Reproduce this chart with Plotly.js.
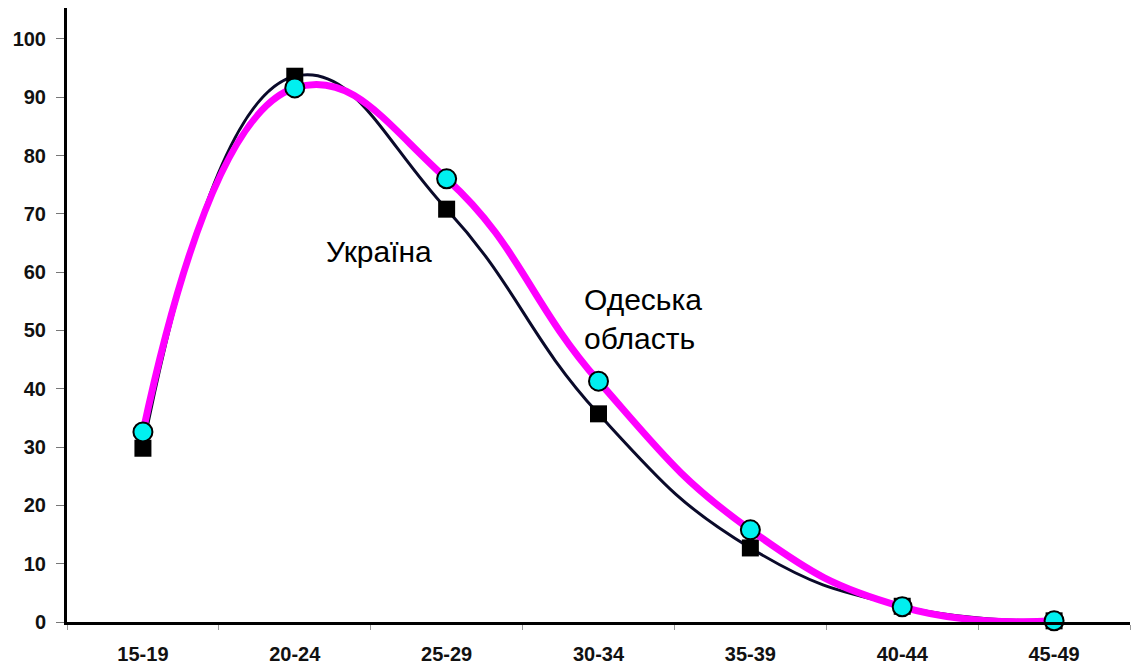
<!DOCTYPE html>
<html><head><meta charset="utf-8">
<script src="https://cdn.plot.ly/plotly-3.0.1.min.js"></script>
<style>html,body{margin:0;padding:0;background:#fff}#c{width:1147px;height:667px}</style>
</head><body><div id="c"></div>
<script>
const categories = ['15-19','20-24','25-29','30-34','35-39','40-44','45-49'];
const ukraine = [29.8, 93.6, 70.8, 35.7, 12.7, 2.7, 0.2];
const odesa = [32.6, 91.6, 76.0, 41.3, 15.8, 2.6, 0.2];
const yTicks = [0,10,20,30,40,50,60,70,80,90,100];

const traces = [
  {x: categories, y: ukraine, type:'scatter', mode:'lines+markers', cliponaxis:false,
   line:{shape:'spline', smoothing:1.3, color:'#0a0a2a', width:3},
   marker:{symbol:'square', size:17, color:'#000'}},
  {x: categories, y: odesa, type:'scatter', mode:'lines+markers', cliponaxis:false,
   line:{shape:'spline', smoothing:1.3, color:'#ff00ff', width:7},
   marker:{symbol:'circle', size:19, color:'#00f0f0', line:{color:'#000', width:2}}}
];
const tf = {size:20, family:'Liberation Sans, Arial, sans-serif', weight:'bold', color:'#111'};
const layout = {
  width:1147, height:667, showlegend:false,
  margin:{l:67, r:17, t:8, b:45},
  paper_bgcolor:'#fff', plot_bgcolor:'#fff',
  font:{family:'Liberation Sans, Arial, sans-serif', color:'#000'},
  xaxis:{type:'category', range:[-0.5,6.5], tickson:'boundaries', ticks:'outside', ticklen:5, tickcolor:'#999', tickwidth:1,
    showgrid:false, showline:true, linecolor:'#000', linewidth:3, zeroline:false,
    tickfont:tf, ticklabelstandoff:12},
  yaxis:{range:[0,105.3], tickvals:yTicks, ticks:'outside', ticklen:8, tickcolor:'#777', tickwidth:1,
    showgrid:false, showline:true, linecolor:'#000', linewidth:3, zeroline:false,
    tickfont:tf, ticklabelstandoff:6},
  annotations:[
    {x:1.555, y:63.5, xref:'x', yref:'y', text:'Україна', showarrow:false, font:{size:30}},
    {x:2.893, y:52.0, xref:'x', yref:'y', text:'Одеська<br>область', showarrow:false, align:'left', xanchor:'left', font:{size:30}}
  ]
};
Plotly.newPlot('c', traces, layout, {displayModeBar:false, staticPlot:true});
</script></body></html>
